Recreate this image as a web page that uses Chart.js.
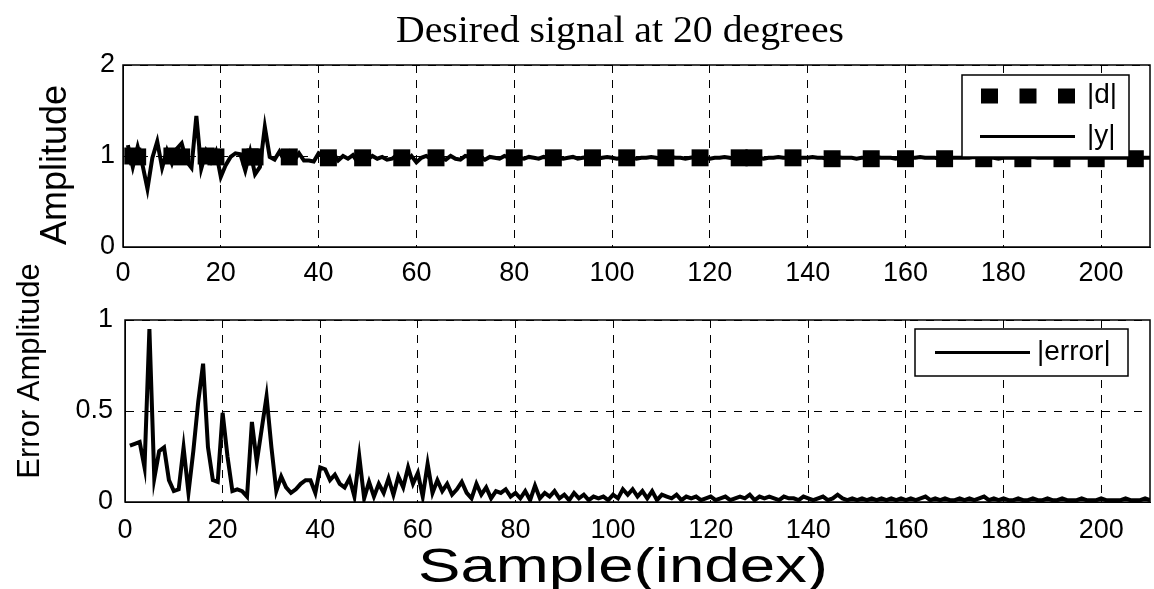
<!DOCTYPE html>
<html>
<head>
<meta charset="utf-8">
<script src="https://cdn.jsdelivr.net/npm/chart.js@4.4.1/dist/chart.umd.min.js"></script>
<style>
  html, body { margin: 0; padding: 0; background: #fff; }
  #wrap { position: relative; width: 1154px; height: 589px; }
  .box { position: absolute; left: 0; width: 1154px; }
  #top { top: 0; height: 290px; }
  #bottom { top: 250px; height: 339px; }
</style>
</head>
<body>
<div id="wrap">
  <div class="box" id="top"><canvas id="ampChart"></canvas></div>
  <div class="box" id="bottom"><canvas id="errChart"></canvas></div>
</div>
<script>
// sample axis ticks
var xTicks = [0, 20, 40, 60, 80, 100, 120, 140, 160, 180, 200];
var ampTicks = [0, 1, 2];
var errTicks = [0, 0.5, 1];

// |y| : output amplitude, samples 1..210
var yMag = [
  1.12, 0.88, 1.10, 0.90, 0.64, 0.98, 1.16, 0.87, 1.06, 0.92,
  1.08, 1.14, 0.94, 0.87, 1.44, 0.86, 1.05, 0.94, 1.05, 0.77,
  0.90, 0.99, 1.03, 1.02, 0.84, 1.05, 0.80, 0.88, 1.32, 0.99,
  0.96, 1.05, 0.95, 1.04, 0.95, 1.03, 0.95, 0.95, 0.94, 1.03,
  1.00, 0.96, 1.03, 0.95, 1.00, 0.97, 1.01, 0.93, 0.99, 0.96,
  1.00, 0.97, 0.99, 0.96, 0.97, 1.01, 0.99, 0.95, 1.00, 0.93,
  0.98, 1.00, 0.97, 0.99, 0.98, 0.96, 1.00, 0.97, 0.96, 1.00,
  0.99, 0.98, 0.99, 0.96, 0.99, 0.98, 0.97, 1.00, 0.98, 0.99,
  0.98, 0.97, 0.99, 0.98, 0.97, 0.99, 0.98, 0.99, 0.98, 0.97,
  0.98, 0.99, 0.97, 0.98, 0.99, 0.98, 0.97, 0.98, 0.99, 0.98,
  0.97, 0.98, 0.99, 0.98, 0.97, 0.98, 0.98, 0.99, 0.98, 0.97,
  0.98, 0.99, 0.98, 0.98, 0.97, 0.98, 0.99, 0.98, 0.98, 0.97,
  0.98, 0.98, 0.99, 0.98, 0.97, 0.98, 0.98, 0.99, 0.98, 0.98,
  0.97, 0.98, 0.98, 0.99, 0.98, 0.98, 0.97, 0.98, 0.98, 0.98,
  0.99, 0.98, 0.98, 0.97, 0.98, 0.99, 0.98, 0.98, 0.98, 0.97,
  0.98, 0.98, 0.98, 0.99, 0.98, 0.98, 0.98, 0.97, 0.98, 0.98,
  0.98, 0.98, 0.99, 0.98, 0.98, 0.98, 0.97, 0.98, 0.98, 0.98,
  0.98, 0.98, 0.98, 0.99, 0.98, 0.98, 0.98, 0.98, 0.97, 0.98,
  0.98, 0.98, 0.98, 0.98, 0.98, 0.99, 0.98, 0.98, 0.98, 0.98,
  0.98, 0.97, 0.98, 0.98, 0.98, 0.98, 0.98, 0.98, 0.99, 0.98,
  0.98, 0.98, 0.98, 0.98, 0.98, 0.98, 0.98, 0.98, 0.98, 0.98
];

// |d| : desired signal, marked samples only
var dIdx = [2, 3, 10, 12, 17, 19, 26, 27, 34, 42, 49, 57, 64, 72, 80, 88,
            96, 103, 111, 118, 126, 129, 137, 145, 153, 160, 168, 176, 184, 192, 199, 207];
var dMag = [1.00, 0.99, 1.00, 0.99, 1.00, 0.99, 0.99, 0.99, 0.99, 0.98, 0.98, 0.98, 0.98, 0.98, 0.98, 0.98,
            0.98, 0.98, 0.98, 0.98, 0.98, 0.98, 0.98, 0.97, 0.97, 0.97, 0.97, 0.97, 0.97, 0.97, 0.97, 0.97];

// |error| samples 1..210
var errMag = [
  0.31, 0.32, 0.33, 0.19, 0.95, 0.13, 0.28, 0.30, 0.12, 0.06,
  0.07, 0.30, 0.05, 0.28, 0.55, 0.76, 0.30, 0.12, 0.11, 0.49,
  0.25, 0.06, 0.07, 0.06, 0.03, 0.44, 0.22, 0.40, 0.58, 0.30,
  0.06, 0.14, 0.08, 0.05, 0.07, 0.10, 0.12, 0.12, 0.05, 0.19,
  0.18, 0.12, 0.15, 0.10, 0.08, 0.13, 0.03, 0.25, 0.02, 0.11,
  0.03, 0.10, 0.05, 0.13, 0.04, 0.14, 0.08, 0.19, 0.10, 0.16,
  0.03, 0.21, 0.05, 0.12, 0.06, 0.10, 0.04, 0.07, 0.11, 0.05,
  0.02, 0.10, 0.04, 0.08, 0.02, 0.06, 0.05, 0.07, 0.03, 0.05,
  0.02, 0.06, 0.01, 0.09, 0.02, 0.05, 0.03, 0.06, 0.02, 0.04,
  0.01, 0.05, 0.02, 0.04, 0.01, 0.03, 0.02, 0.03, 0.01, 0.04,
  0.02, 0.07, 0.04, 0.07, 0.03, 0.06, 0.02, 0.06, 0.01, 0.04,
  0.03, 0.02, 0.04, 0.01, 0.03, 0.02, 0.03, 0.01, 0.02, 0.03,
  0.01, 0.02, 0.03, 0.01, 0.02, 0.03, 0.02, 0.04, 0.01, 0.03,
  0.02, 0.03, 0.02, 0.01, 0.03, 0.02, 0.02, 0.01, 0.03, 0.02,
  0.01, 0.02, 0.03, 0.01, 0.02, 0.04, 0.02, 0.01, 0.02, 0.01,
  0.02, 0.01, 0.02, 0.01, 0.02, 0.01, 0.02, 0.01, 0.02, 0.01,
  0.02, 0.01, 0.02, 0.03, 0.01, 0.02, 0.01, 0.02, 0.01, 0.01,
  0.02, 0.01, 0.02, 0.01, 0.02, 0.03, 0.01, 0.02, 0.01, 0.02,
  0.01, 0.01, 0.02, 0.01, 0.01, 0.02, 0.01, 0.01, 0.02, 0.01,
  0.01, 0.02, 0.01, 0.01, 0.01, 0.02, 0.01, 0.01, 0.01, 0.02,
  0.01, 0.01, 0.01, 0.01, 0.02, 0.01, 0.01, 0.01, 0.02, 0.01
];

var tickFont = { family: 'Liberation Sans', size: 27 };

function toPoints(vals) {
  return vals.map(function (v, i) { return { x: i + 1, y: v }; });
}

// solid box round the plot area
var frame = {
  id: 'frame',
  afterDatasetsDraw: function (chart) {
    var a = chart.chartArea, ctx = chart.ctx;
    ctx.save();
    ctx.strokeStyle = '#000';
    ctx.lineWidth = 1.5;
    ctx.strokeRect(a.left, a.top, a.right - a.left, a.bottom - a.top);
    ctx.restore();
  }
};

// matlab style legend box inside the plot
var boxLegend = {
  id: 'boxLegend',
  afterDatasetsDraw: function (chart, args, o) {
    var a = chart.chartArea, ctx = chart.ctx;
    var x = a.right - o.right - o.width;
    var y = a.top + o.top;
    ctx.save();
    ctx.fillStyle = '#fff';
    ctx.fillRect(x, y, o.width, o.height);
    ctx.strokeStyle = '#000';
    ctx.lineWidth = 1.5;
    ctx.strokeRect(x, y, o.width, o.height);
    ctx.font = o.fontSize + 'px "Liberation Sans"';
    ctx.textBaseline = 'middle';
    ctx.fillStyle = '#000';
    var sets = chart.data.datasets;
    var rowH = o.height / sets.length;
    sets.forEach(function (ds, i) {
      var cy = y + rowH * (i + 0.5);
      var sx = x + o.sampleLeft;
      var ex = sx + o.sampleWidth;
      if (ds.showLine === false) {
        [0, 0.5, 1].forEach(function (f) {
          var px = sx + 9 + (ex - sx - 18) * f;
          ctx.fillRect(px - 8, cy - 7, 17, 15);
        });
      } else {
        ctx.lineWidth = 3;
        ctx.beginPath();
        ctx.moveTo(sx, cy);
        ctx.lineTo(ex, cy);
        ctx.stroke();
      }
      ctx.fillText(ds.label, ex + o.gap, cy);
    });
    ctx.restore();
  }
};

// free text: titles drawn where the original figure has them
var texts = {
  id: 'texts',
  afterDraw: function (chart, args, o) {
    var ctx = chart.ctx;
    o.items.forEach(function (t) {
      ctx.save();
      ctx.font = t.size + 'px "' + t.family + '"';
      ctx.fillStyle = '#000';
      ctx.textAlign = 'center';
      ctx.textBaseline = t.baseline;
      ctx.translate(t.x, t.y);
      if (t.rotate) ctx.rotate(t.rotate);
      if (t.width) ctx.scale(t.width / ctx.measureText(t.text).width, 1);
      ctx.fillText(t.text, 0, 0);
      ctx.restore();
    });
  }
};

function xScale(height, padding) {
  return {
    type: 'linear',
    min: 0,
    max: 210,
    afterBuildTicks: function (s) { s.ticks = xTicks.map(function (v) { return { value: v }; }); },
    afterFit: function (s) { s.height = height; },
    ticks: { color: '#000', font: tickFont, padding: padding, maxRotation: 0 },
    grid: { color: '#000', lineWidth: 1, drawTicks: false },
    border: { display: true, color: '#000', dash: [8, 7] }
  };
}

function yScale(width, max, ticks, padding) {
  return {
    min: 0,
    max: max,
    afterBuildTicks: function (s) { s.ticks = ticks.map(function (v) { return { value: v }; }); },
    afterFit: function (s) { s.width = width; },
    ticks: {
      color: '#000', font: tickFont, padding: padding,
      callback: function (v) { return String(v); }
    },
    grid: { color: '#000', lineWidth: 1, drawTicks: false },
    border: { display: true, color: '#000', dash: [8, 8] }
  };
}

var ampChart = new Chart(document.getElementById('ampChart'), {
  type: 'line',
  data: {
    datasets: [{
      label: '|d|',
      data: dIdx.map(function (v, i) { return { x: v, y: dMag[i] }; }),
      showLine: false,
      pointStyle: 'rect',
      pointRadius: 12,
      backgroundColor: '#000',
      borderColor: '#000',
      borderWidth: 0,
      order: 2
    }, {
      label: '|y|',
      data: toPoints(yMag),
      borderColor: '#000',
      borderWidth: 4,
      pointRadius: 0,
      tension: 0,
      order: 1
    }]
  },
  options: {
    responsive: true,
    maintainAspectRatio: false,
    animation: false,
    layout: { autoPadding: false, padding: { left: 0, right: 4, top: 65, bottom: 0 } },
    scales: {
      x: xScale(43, 10),
      y: yScale(123, 2, ampTicks, 8)
    },
    plugins: {
      legend: { display: false },
      tooltip: { enabled: false },
      boxLegend: { right: 21, top: 10, width: 167, height: 82, sampleLeft: 18, sampleWidth: 95, gap: 12, fontSize: 28 },
      texts: {
        items: [
          { text: 'Desired signal at 20 degrees', family: 'Liberation Serif', size: 37, x: 620, y: 42, baseline: 'alphabetic', width: 448 },
          { text: 'Amplitude', family: 'Liberation Sans', size: 36, x: 56, y: 165, baseline: 'middle', rotate: -Math.PI / 2 }
        ]
      }
    }
  },
  plugins: [frame, boxLegend, texts]
});

var errChart = new Chart(document.getElementById('errChart'), {
  type: 'line',
  data: {
    datasets: [{
      label: '|error|',
      data: toPoints(errMag),
      borderColor: '#000',
      borderWidth: 4,
      pointRadius: 0,
      tension: 0
    }]
  },
  options: {
    responsive: true,
    maintainAspectRatio: false,
    animation: false,
    layout: { autoPadding: false, padding: { left: 0, right: 4, top: 70, bottom: 0 } },
    scales: {
      x: xScale(87, 12),
      y: yScale(125, 1, errTicks, 12)
    },
    plugins: {
      legend: { display: false },
      tooltip: { enabled: false },
      boxLegend: { right: 22, top: 9, width: 213, height: 47, sampleLeft: 20, sampleWidth: 95, gap: 7, fontSize: 28 },
      texts: {
        items: [
          { text: 'Sample(index)', family: 'Liberation Sans', size: 49, x: 623, y: 332, baseline: 'alphabetic', width: 410 },
          { text: 'Error Amplitude', family: 'Liberation Sans', size: 31, x: 30, y: 121, baseline: 'middle', rotate: -Math.PI / 2 }
        ]
      }
    }
  },
  plugins: [frame, boxLegend, texts]
});
</script>
</body>
</html>
